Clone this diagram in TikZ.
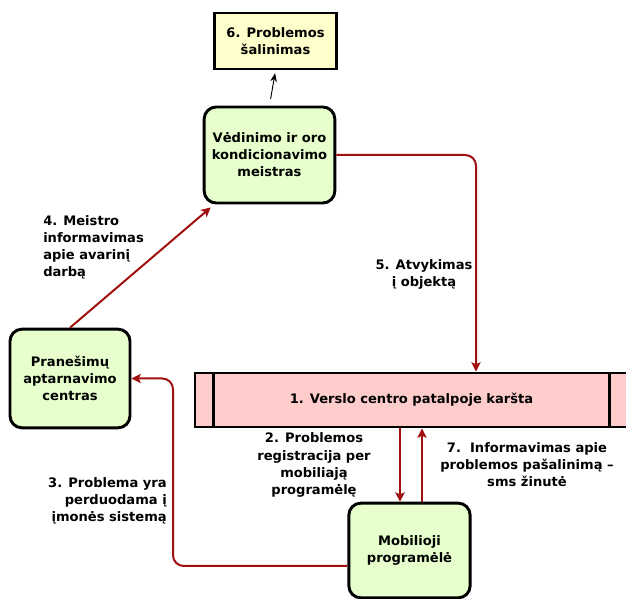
\documentclass[tikz,border=0pt]{standalone}
\usepackage{fontspec}
\setmainfont{DejaVu Sans}
\usepackage{xcolor}
\usepackage{tikz}
\usetikzlibrary{
    positioning,
    arrows.meta,
    calc,
}
\definecolor{boxgreen}{RGB}{230,255,204}
\definecolor{boxyellow}{RGB}{255,255,204}
\definecolor{boxpink}{RGB}{255,204,204}
\definecolor{flowred}{RGB}{160,16,16}
\tikzset{
    % Basic node styles
    base/.style={draw, line width=2.2pt, inner sep=0pt, align=center,
                 font=\bfseries\fontsize{9.8}{12.8}\selectfont},
    actor/.style={base, rectangle, rounded corners=9pt, fill=boxgreen},
    task/.style={base, rectangle, fill=boxyellow},
    process/.style={base, rectangle, fill=boxpink},
    % Annotation styles
    annot/.style={inner sep=0pt, font=\bfseries\fontsize{9.8}{12.8}\selectfont},
    % Arrow styles
    flow/.style={-{Stealth[length=7pt, width=7pt, inset=1.5pt]}, line width=1.5pt, flowred},
    thin arrow/.style={-{Stealth[length=6.5pt, width=5pt]}, line width=0.7pt},
}

\begin{document}
\begin{tikzpicture}[x=0.75pt, y=-0.75pt]
    \clip (0,0) rectangle (626,599);

    % Nodes
    \node[task, minimum width=92pt, minimum height=42pt] (prob6) at (275.5,41) {6. Problemos\\šalinimas};
    \node[actor, minimum width=98pt, minimum height=72pt] (vedin) at (269.5,155) {Vėdinimo ir oro\\kondicionavimo\\meistras};
    \node[actor, minimum width=90pt, minimum height=74pt] (pranes) at (70,378.5) {Pranešimų\\aptarnavimo\\centras};
    \node[process, minimum width=324.75pt, minimum height=40.5pt] (verslo) at (411.5,400) {1. Verslo centro patalpoje karšta};
    \node[actor, minimum width=91pt, minimum height=71pt] (mobil) at (409.5,550.5) {Mobilioji\\programėlė};

    % inner lines of the process bar
    \draw[line width=2.2pt] ([xshift=15pt]verslo.north west) -- ([xshift=15pt]verslo.south west);
    \draw[line width=2.2pt] ([xshift=-15pt]verslo.north east) -- ([xshift=-15pt]verslo.south east);

    % Helper coordinates
    \coordinate (c5) at (476,0);
    \coordinate (c2) at (400,0);
    \coordinate (c7) at (422,0);
    \coordinate (c3) at (173,0);

    % Connectors
    \draw[thin arrow, shorten <=5pt, shorten >=2pt] (vedin.north) -- (prob6.south);
    \draw[flow, rounded corners=8pt] (vedin.east) -| (verslo.north -| c5);
    \draw[flow] (pranes.north) -- ([shift={(8,3)}]vedin.south west);
    \draw[flow] (verslo.south -| c2) -- (mobil.north -| c2);
    \draw[flow] (mobil.north -| c7) -- (verslo.south -| c7);
    \draw[flow, rounded corners=8pt] ([yshift=-11.6pt]mobil.west) -| (c3 |- pranes.east) -- (pranes.east);

    % Labels
    \node[annot, anchor=west, align=left] (lbl4) at (43,247) {4. Meistro\\informavimas\\apie avarinį\\darbą};
    \node[annot, align=center] (lbl5) at (424,274) {5. Atvykimas\\į objektą};
    \node[annot, align=center] (lbl2) at (314,465) {2. Problemos\\registracija per\\mobiliają\\programėlę};
    \node[annot, align=center] (lbl7) at (527,465) {7.~~Informavimas apie\\problemos pašalinimą –\\sms žinutė};
    \node[annot, anchor=east, align=right] (lbl3) at (167,501) {3. Problema yra\\perduodama į\\įmonės sistemą};
\end{tikzpicture}
\end{document}
